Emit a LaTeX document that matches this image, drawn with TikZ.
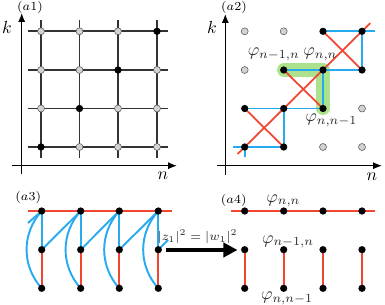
\documentclass[tikz,border=0pt]{standalone}
\usetikzlibrary{arrows.meta,calc}
\definecolor{myred}{RGB}{240,70,50}
\definecolor{myblue}{RGB}{40,170,240}
\definecolor{mygreen}{RGB}{172,226,140}
\begin{document}
\begin{tikzpicture}[x=0.02cm,y=-0.02cm,
  bdot/.style={circle,fill=black,inner sep=0pt,minimum size=0.145cm},
  gdot/.style={circle,fill=gray!35,draw=gray!65!black,line width=0.3pt,inner sep=0pt,minimum size=0.14cm},
  gridline/.style={draw=black!80,line width=1.05pt},
  axisline/.style={draw=black,line width=0.75pt,-{Latex[length=5pt,width=4pt]}},
  redline/.style={draw=myred,line width=1pt},
  blueline/.style={draw=myblue,line width=1.1pt},
  hilite/.style={draw=mygreen,line width=7.5pt,line cap=round,line join=round},
  panel/.style={font=\scriptsize,inner sep=0pt},
  lbl/.style={inner sep=0pt,text=black!85},
  bigarrow/.style={draw=black,line width=2.3pt,-{Triangle[length=8pt,width=8pt]}}]
\useasboundingbox (0,0) rectangle (385,304);

% ---------------- (a1)
\foreach \x in {41,79.5,118,157} {\draw[gridline] (\x,20) -- (\x,158);}
\foreach \y in {147,108.5,70,31.3} {\draw[gridline] (28,\y) -- (168,\y);}
\coordinate (a1o) at (21.7,174); \coordinate (a1k) at (21.7,13);
\coordinate (a1s) at (12,165.7); \coordinate (a1n) at (177,165.7);
\draw[axisline] (a1o) -- (a1k);
\draw[axisline] (a1s) -- (a1n);
\foreach \i/\x in {0/41,1/79.5,2/118,3/157} {
  \foreach \j/\y in {0/147,1/108.5,2/70,3/31.3} {
    \ifnum\i=\j\relax
      \node[bdot] (p\i\j) at (\x,\y) {};
    \else
      \node[gdot] (p\i\j) at (\x,\y) {};
    \fi
  }
}
\node (ka1) at (7,27) {$k$};
\node (na1) at (163,176) {$n$};
\node[panel] (ta1) at (30,7) {$(a1)$};

% ---------------- (a2)
\coordinate (a2o) at (225.3,175); \coordinate (a2k) at (225.3,14);
\coordinate (a2s) at (217,165.7); \coordinate (a2n) at (382,165.7);
\draw[axisline] (a2o) -- (a2k);
\draw[axisline] (a2s) -- (a2n);
\foreach \i/\x in {0/244.7,1/283.7,2/323,3/362} {
  \foreach \j/\y in {0/147,1/108.5,2/70,3/31.3} {
    \coordinate (q\i\j) at (\x,\y);
  }
}
\draw[hilite] (q12) -- (q22) -- (q21);
\coordinate (bs1) at (233,147); \coordinate (bs2) at (244.7,157);
\coordinate (bs3) at (374.7,31.3);
\draw[blueline] (bs1) -- (q00) -- (bs2);
\draw[blueline] (q00) -- (q10) -- (q11);
\draw[blueline] (q01) -- (q21) -- (q22);
\draw[blueline] (q12) -- (q32) -- (q33);
\draw[blueline] (q23) -- (bs3);
\draw[redline] ($(q00)!-0.06!(q33)$) -- ($(q00)!1.07!(q33)$);
\draw[redline] (q01) -- (q10);
\draw[redline] (q12) -- (q21);
\draw[redline] (q23) -- (q32);
\foreach \i in {0,1,2,3} {
  \foreach \j in {0,1,2,3} {
    \pgfmathtruncatemacro\dd{abs(\i-\j)}
    \ifnum\dd<2\relax
      \node[bdot] (dq\i\j) at (q\i\j) {};
    \else
      \node[gdot] (dq\i\j) at (q\i\j) {};
    \fi
  }
}
\node (ka2) at (212,27) {$k$};
\node (na2) at (372,177) {$n$};
\node[panel] (ta2) at (234,7) {$(a2)$};
\node[lbl,anchor=base east] (f1) at (300,56) {$\varphi_{n-1,n}$};
\node[lbl,anchor=base west] (f2) at (303,56) {$\varphi_{n,n}$};
\node[lbl,anchor=base west] (f3) at (305,121.5) {$\varphi_{n,n-1}$};

% ---------------- (a3)
\foreach \i/\x in {0/41.7,1/80.7,2/119.3,3/158.3} {
  \coordinate (t\i) at (\x,211);
  \coordinate (m\i) at (\x,249.7);
  \coordinate (b\i) at (\x,288.3);
}
\coordinate (r3a) at (28,211); \coordinate (r3b) at (171.7,211);
\draw[redline] (r3a) -- (r3b);
\foreach \i in {0,1,2,3} {
  \draw[redline] (m\i) -- (b\i);
  \draw[blueline] (t\i) -- (m\i);
  \draw[blueline] (b\i) to[bend left=42] (t\i);
}
\foreach \i/\j in {0/1,1/2,2/3} {\draw[blueline] (m\i) -- (t\j);}
\coordinate (bsa) at (28,223); \coordinate (bsb) at (168,240);
\draw[blueline] (t0) -- (bsa);
\draw[blueline] (m3) -- (bsb);
\foreach \i in {0,1,2,3} {
  \node[bdot] (dt\i) at (t\i) {};
  \node[bdot] (dm\i) at (m\i) {};
  \node[bdot] (db\i) at (b\i) {};
}
\node[panel] (ta3) at (28.3,197.5) {$(a3)$};

% arrow
\coordinate (ar1) at (166,250); \coordinate (ar2) at (237.5,250);
\draw[bigarrow] (ar1) -- (ar2);
\node[lbl,font=\scriptsize] (arl) at (197.5,237) {$|z_1|^2=|w_1|^2$};

% ---------------- (a4)
\foreach \i/\x in {0/244.7,1/283.7,2/323,3/362} {
  \coordinate (u\i) at (\x,211);
  \coordinate (v\i) at (\x,249.7);
  \coordinate (w\i) at (\x,288.3);
}
\coordinate (r4a) at (231,211); \coordinate (r4b) at (374.7,211);
\draw[redline] (r4a) -- (r4b);
\foreach \i in {0,1,2,3} {\draw[redline] (v\i) -- (w\i);}
\foreach \i in {0,1,2,3} {
  \node[bdot] (du\i) at (u\i) {};
  \node[bdot] (dv\i) at (v\i) {};
  \node[bdot] (dw\i) at (w\i) {};
}
\node[panel] (ta4) at (233.7,200) {$(a4)$};
\node[lbl,anchor=base] (g1) at (283.3,202) {$\varphi_{n,n}$};
\node[lbl,anchor=base] (g2) at (288,243) {$\varphi_{n-1,n}$};
\node[lbl,anchor=base] (g3) at (287,299.5) {$\varphi_{n,n-1}$};
\end{tikzpicture}
\end{document}
